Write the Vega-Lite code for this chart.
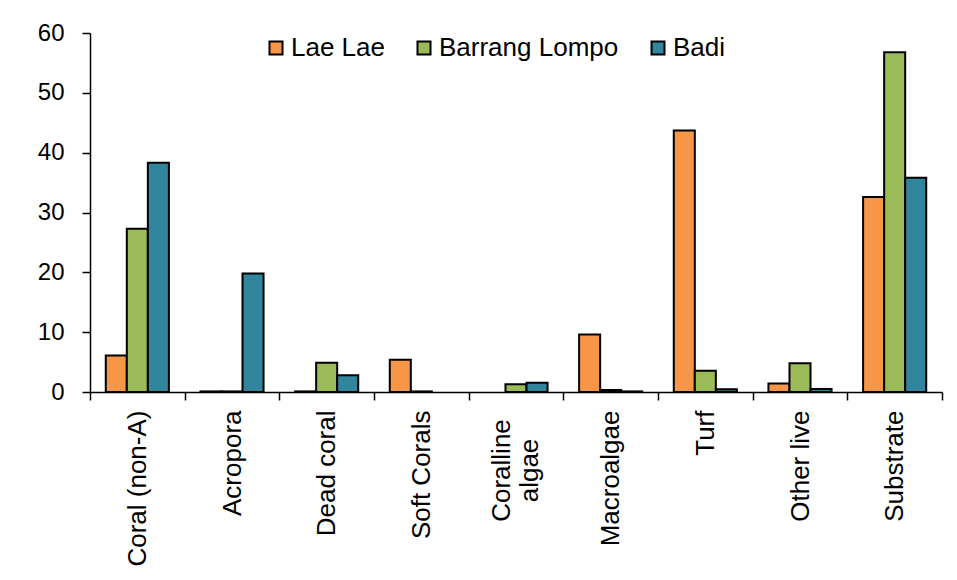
{
  "$schema": "https://vega.github.io/schema/vega-lite/v6.json",
  "autosize": "none",
  "width": 852,
  "height": 359,
  "padding": {"left": 90, "top": 33, "right": 15, "bottom": 188},
  "background": "white",
  "config": {
    "view": {"stroke": null},
    "font": "Liberation Sans",
    "axis": {
      "domainColor": "black",
      "domainWidth": 1.5,
      "tickColor": "black",
      "tickWidth": 1.5,
      "tickSize": 8,
      "labelColor": "black",
      "labelFont": "Liberation Sans",
      "grid": false,
      "title": null
    },
    "legend": {"labelFont": "Liberation Sans"}
  },
  "data": {
    "values": [
      {"category": "Coral (non-A)", "site": "Lae Lae", "value": 6.1},
      {"category": "Coral (non-A)", "site": "Barrang Lompo", "value": 27.3},
      {"category": "Coral (non-A)", "site": "Badi", "value": 38.3},
      {"category": "Acropora", "site": "Lae Lae", "value": 0.1},
      {"category": "Acropora", "site": "Barrang Lompo", "value": 0.1},
      {"category": "Acropora", "site": "Badi", "value": 19.8},
      {"category": "Dead coral", "site": "Lae Lae", "value": 0.1},
      {"category": "Dead coral", "site": "Barrang Lompo", "value": 4.9},
      {"category": "Dead coral", "site": "Badi", "value": 2.8},
      {"category": "Soft Corals", "site": "Lae Lae", "value": 5.4},
      {"category": "Soft Corals", "site": "Barrang Lompo", "value": 0.1},
      {"category": "Coralline algae", "site": "Barrang Lompo", "value": 1.3},
      {"category": "Coralline algae", "site": "Badi", "value": 1.55},
      {"category": "Macroalgae", "site": "Lae Lae", "value": 9.6},
      {"category": "Macroalgae", "site": "Barrang Lompo", "value": 0.35},
      {"category": "Macroalgae", "site": "Badi", "value": 0.1},
      {"category": "Turf", "site": "Lae Lae", "value": 43.7},
      {"category": "Turf", "site": "Barrang Lompo", "value": 3.55},
      {"category": "Turf", "site": "Badi", "value": 0.45},
      {"category": "Other live", "site": "Lae Lae", "value": 1.4},
      {"category": "Other live", "site": "Barrang Lompo", "value": 4.8},
      {"category": "Other live", "site": "Badi", "value": 0.5},
      {"category": "Substrate", "site": "Lae Lae", "value": 32.6},
      {"category": "Substrate", "site": "Barrang Lompo", "value": 56.8},
      {"category": "Substrate", "site": "Badi", "value": 35.8}
    ]
  },
  "mark": {"type": "bar", "stroke": "black", "strokeWidth": 2},
  "encoding": {
    "x": {
      "field": "category",
      "type": "nominal",
      "sort": ["Coral (non-A)", "Acropora", "Dead coral", "Soft Corals", "Coralline algae", "Macroalgae", "Turf", "Other live", "Substrate"],
      "scale": {"paddingInner": 0, "paddingOuter": 0},
      "axis": {
        "labelAngle": -90,
        "labelFontSize": 26,
        "labelPadding": {"condition": {"test": "datum.value == 'Coralline algae'", "value": 70}, "value": 10},
        "labelAlign": {"condition": {"test": "datum.value == 'Coralline algae'", "value": "center"}, "value": "right"},
        "labelOffset": {"condition": {"test": "datum.value == 'Coralline algae'", "value": -15}, "value": 0},
        "tickBand": "extent",
        "labelExpr": "datum.label == 'Coralline algae' ? ['Coralline', 'algae'] : datum.label"
      }
    },
    "xOffset": {
      "field": "site",
      "type": "nominal",
      "sort": ["Lae Lae", "Barrang Lompo", "Badi"],
      "scale": {"paddingInner": 0, "paddingOuter": 0.75}
    },
    "y": {
      "field": "value",
      "type": "quantitative",
      "scale": {"domain": [0, 60], "nice": false},
      "axis": {"values": [0, 10, 20, 30, 40, 50, 60], "labelFontSize": 24, "labelPadding": 18}
    },
    "color": {
      "field": "site",
      "type": "nominal",
      "scale": {"domain": ["Lae Lae", "Barrang Lompo", "Badi"], "range": ["#F79646", "#9BBB59", "#31859C"]},
      "legend": {
        "title": null,
        "orient": "none",
        "direction": "horizontal",
        "legendX": 173,
        "legendY": 2,
        "symbolType": "square",
        "symbolSize": 169,
        "symbolStrokeColor": "black",
        "symbolStrokeWidth": 2,
        "labelFontSize": 26,
        "labelLimit": 400,
        "labelColor": "black",
        "labelOffset": 2,
        "columnPadding": 26
      }
    }
  }
}
